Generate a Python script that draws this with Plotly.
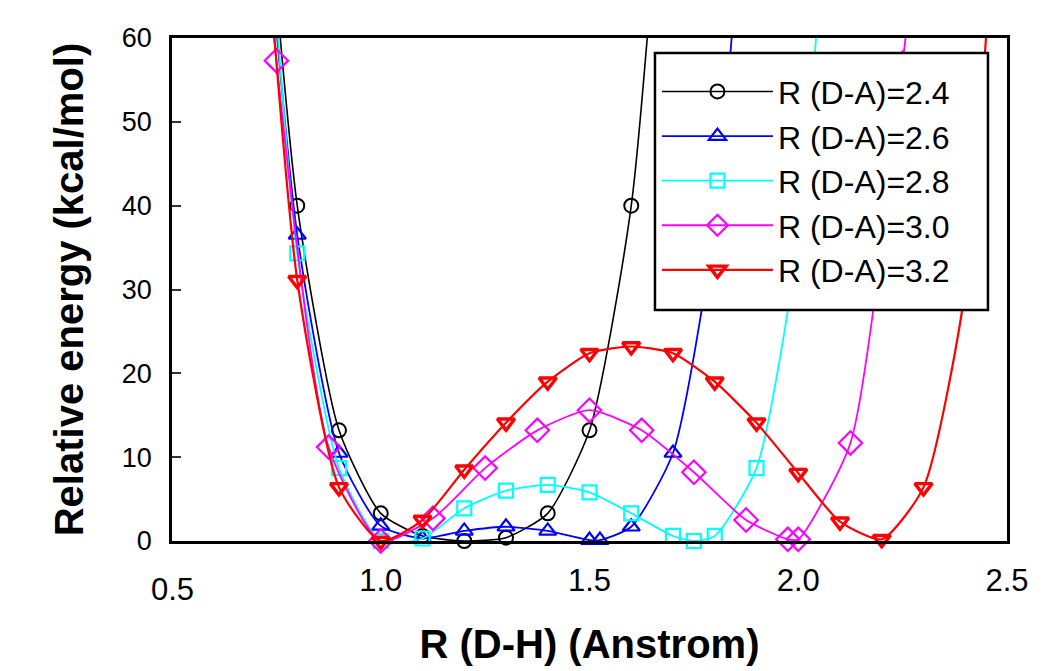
import plotly.graph_objects as go

# R (D-H) in Angstrom and relative energy (kcal/mol) for each R(D-A)
x_24 = [0.7, 0.8, 0.9, 1.0, 1.1, 1.2, 1.3, 1.4, 1.5, 1.6, 1.7]
y_24 = [95, 40.0, 13.2, 3.3, 0.6, 0.0, 0.4, 3.3, 13.2, 40.0, 100]

x_26 = [0.7, 0.8, 0.9, 1.0, 1.1, 1.2, 1.3, 1.4, 1.5, 1.525, 1.6, 1.7, 1.8, 1.9]
y_26 = [90, 36.5, 10.5, 1.8, 0.3, 1.2, 1.7, 1.2, 0.1, 0.1, 1.7, 10.5, 38, 100]

x_28 = [0.7, 0.8, 0.9, 1.0, 1.1, 1.2, 1.3, 1.4, 1.5, 1.6, 1.7, 1.75, 1.8, 1.9, 2.0, 2.1]
y_28 = [98, 34.3, 8.7, 0.0, 0.3, 3.9, 6.0, 6.7, 5.8, 3.3, 0.6, 0.0, 0.6, 8.7, 36, 100]

x_30 = [0.625, 0.75, 0.875, 1.0, 1.125, 1.25, 1.375, 1.5, 1.625, 1.75, 1.875, 1.975, 2.0, 2.125, 2.25, 2.375]
y_30 = [140, 57.3, 11.2, 0.0, 2.7, 8.7, 13.2, 15.6, 13.2, 8.2, 2.5, 0.2, 0.2, 11.7, 57, 120]

x_32 = [0.7, 0.8, 0.9, 1.0, 1.1, 1.2, 1.3, 1.4, 1.5, 1.6, 1.7, 1.8, 1.9, 2.0, 2.1, 2.2, 2.3, 2.4, 2.5]
y_32 = [89, 31.1, 6.4, 0.0, 2.5, 8.5, 14.1, 19.0, 22.4, 23.2, 22.4, 19.0, 14.1, 8.1, 2.3, 0.2, 6.4, 30, 100]

series_names = ["R (D-A)=2.4", "R (D-A)=2.6", "R (D-A)=2.8", "R (D-A)=3.0", "R (D-A)=3.2"]
x_tick_vals = [1.0, 1.5, 2.0, 2.5]
x_tick_text = ["1.0", "1.5", "2.0", "2.5"]
y_tick_vals = [0, 10, 20, 30, 40, 50, 60]

xs = [x_24, x_26, x_28, x_30, x_32]
ys = [y_24, y_26, y_28, y_30, y_32]
colors = ["#000000", "#0000ff", "#00ffff", "#ff00ff", "#ff0000"]
symbols = ["circle-open", "triangle-up-open", "square-open", "diamond-open", "triangle-down-open"]
msizes = [14, 15, 14, 18, 15]
mlw = [2, 2.2, 2.2, 2.2, 3.4]
lw = [1.6, 1.8, 1.8, 1.8, 2.2]

fig = go.Figure()
for i in range(5):
    fig.add_trace(go.Scatter(
        x=xs[i], y=ys[i], name=series_names[i], mode="lines+markers",
        line=dict(color=colors[i], width=lw[i], shape="spline", smoothing=0.6),
        marker=dict(symbol=symbols[i], size=msizes[i], color=colors[i],
                    line=dict(color=colors[i], width=mlw[i])),
        cliponaxis=False,
    ))

font_family = "Liberation Sans, Arial, sans-serif"

fig.update_layout(
    width=1043, height=671,
    margin=dict(l=172, r=36, t=38, b=130),
    paper_bgcolor="white", plot_bgcolor="white",
    font=dict(family=font_family, color="black"),
    showlegend=True,
    legend=dict(
        x=0.5808, y=0.948, xanchor="left", yanchor="top",
        bgcolor="rgba(0,0,0,0)", borderwidth=0,
        font=dict(size=32, family=font_family, color="black"),
        itemwidth=111, traceorder="normal",
    ),
    # legend frame (white box with black border) drawn over the curves
    shapes=[dict(
        type="rect", xref="paper", yref="paper",
        x0=0.5784, x1=0.9772, y0=0.4592, y1=0.9702,
        fillcolor="white", line=dict(color="black", width=2.5), layer="above",
    )],
    xaxis=dict(
        range=[0.5, 2.5], tickvals=x_tick_vals, ticktext=x_tick_text,
        ticks="", showgrid=False, zeroline=False,
        showline=True, linecolor="black", linewidth=2.5, mirror=True,
        tickfont=dict(size=31, family=font_family, color="black"),
        ticklabelstandoff=10,
        title=dict(text="<b>R (D-H) (Anstrom)</b>", font=dict(size=40, family=font_family, color="black"), standoff=34),
    ),
    yaxis=dict(
        range=[0, 60], tickvals=y_tick_vals,
        ticks="inside", ticklen=9, tickwidth=2, tickcolor="#333333",
        showgrid=False, zeroline=False,
        showline=True, linecolor="black", linewidth=2.5, mirror=True,
        tickfont=dict(size=27, family=font_family, color="black"),
        ticklabelstandoff=12,
        title=dict(text="<b>Relative energy (kcal/mol)</b>", font=dict(size=40, family=font_family, color="black"), standoff=26),
    ),
    annotations=[dict(
        x=0.5, y=0, xref="x", yref="paper", text="0.5", showarrow=False,
        xanchor="center", yanchor="top", yshift=-29,
        font=dict(size=31, family=font_family, color="black"),
    )],
)

fig.write_html("out.html")
